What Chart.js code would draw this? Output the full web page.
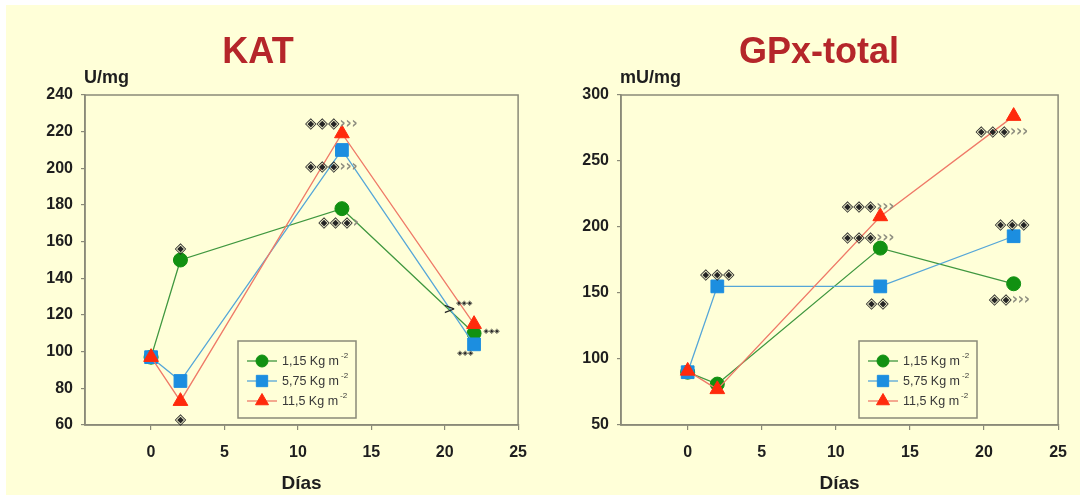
<!DOCTYPE html>
<html>
<head>
<meta charset="utf-8">
<script src="https://cdn.jsdelivr.net/npm/chart.js@4.4.1/dist/chart.umd.min.js"></script>
<style>
  html, body { margin: 0; padding: 0; background: #ffffff; }
  #page { position: absolute; left: 0; top: 0; width: 1080px; height: 495px; background: #ffffff; overflow: hidden; }
  #panel { position: absolute; left: 6px; top: 5px; width: 1074px; height: 490px; background: #ffffd8; }
  .box { position: absolute; top: 0; width: 540px; height: 495px; }
</style>
</head>
<body>
<div id="page">
  <div id="panel"></div>
  <div class="box" style="left:0"><canvas id="kat"></canvas></div>
  <div class="box" style="left:540px"><canvas id="gpx"></canvas></div>
</div>
<script>
// Sampling days and the three doses
const days = [0, 2, 13, 22];
const doseLabels = ['1,15 Kg m', '5,75 Kg m', '11,5 Kg m'];
const doseExponent = '-2';
const dayTicks = [0, 5, 10, 15, 20, 25];

// KAT activity (U/mg)
const katLow  = [97, 150, 178, 110];
const katMid  = [97, 84, 210, 104];
const katHigh = [97, 73, 219, 115];
const katTicks = [60, 80, 100, 120, 140, 160, 180, 200, 220, 240];

// GPx-total activity (mU/mg)
const gpxLow  = [90, 81, 184, 157];
const gpxMid  = [90, 155, 155, 193];
const gpxHigh = [91, 77, 208, 284];
const gpxTicks = [50, 100, 150, 200, 250, 300];

// Significance marks: ◈ = difference vs. control, › = difference vs. day 0
const katSigX    = [2, 2, 12.27, 12.27, 12.77, 20.33];
const katSigY    = [156, 62.7, 224, 200.7, 170, 122.7];
const katSigText = ['◈', '◈', '◈◈◈›››', '◈◈◈›››', '◈◈◈›', '>'];
const katMinorX  = [21.33, 23.2, 21.4];
const katMinorY  = [126.5, 111, 99];

const gpxSigX    = [2.0, 12.17, 12.17, 12.8, 21.2, 21.9, 21.7];
const gpxSigY    = [163.6, 215.4, 191.4, 141.7, 272, 201.5, 144.7];
const gpxSigText = ['◈◈◈', '◈◈◈›››', '◈◈◈›››', '◈◈', '◈◈◈›››', '◈◈◈', '◈◈›››'];

const FONT = '"Liberation Sans", Arial, Helvetica, sans-serif';
const SYM_FONT = '"DejaVu Sans", sans-serif';

const styles = [
  { line: '#3f973f', fill: '#119111', pointStyle: 'circle',   radius: 7,   legendRadius: 6,   order: 2 },
  { line: '#55a6d8', fill: '#1c8ee0', pointStyle: 'rect',     radius: 9,   legendRadius: 8,   order: 1 },
  { line: '#ef7a68', fill: '#ff2a0c', pointStyle: 'triangle', radius: 8.5, legendRadius: 7.5, order: 0 }
];

function makeDatasets(series) {
  return series.map((vals, i) => ({
    label: doseLabels[i],
    data: days.map((d, k) => ({ x: d, y: vals[k] })),
    order: styles[i].order,
    borderColor: styles[i].line,
    borderWidth: 1.3,
    backgroundColor: styles[i].fill,
    pointBackgroundColor: styles[i].fill,
    pointBorderColor: styles[i].fill,
    pointBorderWidth: 1,
    pointStyle: styles[i].pointStyle,
    pointRadius: styles[i].radius,
    pointHoverRadius: styles[i].radius,
    tension: 0,
    fill: false
  }));
}

function drawMark(ctx, text, cx, cy, size) {
  ctx.font = size + 'px ' + SYM_FONT;
  const chars = Array.from(text);
  const widths = chars.map(c => ctx.measureText(c).width);
  const total = widths.reduce((a, b) => a + b, 0);
  let x = cx - total / 2;
  chars.forEach((c, i) => {
    if (c === '›') {
      ctx.fillStyle = '#8e8e80';
      ctx.font = 'bold ' + size + 'px ' + SYM_FONT;
    } else {
      ctx.fillStyle = '#262626';
      ctx.font = size + 'px ' + SYM_FONT;
    }
    ctx.fillText(c, x, cy);
    x += widths[i];
  });
}

const decor = {
  id: 'decor',
  beforeDatasetsDraw(chart) {
    const { ctx, chartArea: a } = chart;
    ctx.save();
    ctx.strokeStyle = '#8a8a78';
    ctx.lineWidth = 1.5;
    ctx.strokeRect(a.left, a.top, a.right - a.left, a.bottom - a.top);
    ctx.restore();
  },
  afterDraw(chart, args, opts) {
    const { ctx, scales: { x, y } } = chart;
    ctx.save();
    // heading
    ctx.textAlign = 'center';
    ctx.textBaseline = 'middle';
    ctx.fillStyle = '#b5262a';
    ctx.font = 'bold 36px ' + FONT;
    ctx.fillText(opts.title, opts.titleX, 53);
    // unit
    ctx.textAlign = 'left';
    ctx.fillStyle = '#1e1e1e';
    ctx.font = 'bold 18px ' + FONT;
    ctx.fillText(opts.unit, opts.unitX, 78);

    // significance marks
    ctx.textAlign = 'left';
    ctx.textBaseline = 'middle';
    opts.sigX.forEach((d, i) => {
      drawMark(ctx, opts.sigText[i], x.getPixelForValue(d), y.getPixelForValue(opts.sigY[i]), 15);
    });
    (opts.minorX || []).forEach((d, i) => {
      drawMark(ctx, '◈◈◈', x.getPixelForValue(d), y.getPixelForValue(opts.minorY[i]), 7);
    });

    // legend box
    const L = opts.legend;
    ctx.strokeStyle = '#8a8a78';
    ctx.lineWidth = 1.5;
    ctx.strokeRect(L.x, L.y, L.w, L.h);
    chart.data.datasets.forEach((ds, i) => {
      const ry = L.y + 20 + i * 20;
      ctx.strokeStyle = ds.borderColor;
      ctx.lineWidth = 1.3;
      ctx.beginPath();
      ctx.moveTo(L.x + 9, ry);
      ctx.lineTo(L.x + 39, ry);
      ctx.stroke();
      ctx.fillStyle = ds.pointBackgroundColor;
      ctx.strokeStyle = ds.pointBorderColor;
      ctx.lineWidth = 1;
      Chart.helpers.drawPoint(ctx, { pointStyle: ds.pointStyle, rotation: 0, borderWidth: 1, radius: styles[i].legendRadius }, L.x + 24, ry);
      ctx.fillStyle = '#383838';
      ctx.font = '12.5px ' + FONT;
      ctx.textAlign = 'left';
      ctx.textBaseline = 'middle';
      ctx.fillText(ds.label, L.x + 44, ry + 1);
      const w = ctx.measureText(ds.label).width;
      ctx.font = '8px ' + FONT;
      ctx.fillText(doseExponent, L.x + 46 + w, ry - 5);
    });
    ctx.restore();
  }
};

function makeChart(id, series, yTicks, yWidth, padRight, deco) {
  return new Chart(document.getElementById(id), {
    type: 'line',
    data: { datasets: makeDatasets(series) },
    plugins: [decor],
    options: {
      responsive: true,
      maintainAspectRatio: false,
      animation: false,
      events: [],
      layout: { padding: { top: 95, right: padRight, left: 0, bottom: 0 } },
      plugins: {
        legend: { display: false },
        tooltip: { enabled: false },
        title: { display: false },
        decor: deco
      },
      scales: {
        x: {
          type: 'linear',
          min: -4.5,
          max: 25,
          afterBuildTicks: s => { s.ticks = dayTicks.map(v => ({ value: v })); },
          afterFit: s => { s.height = 70; },
          grid: { display: true, drawOnChartArea: false, drawTicks: true, tickLength: 5, color: '#8a8a78', lineWidth: 1.2 },
          border: { display: true, color: '#8a8a78', width: 1.5 },
          ticks: { color: '#1e1e1e', padding: 13, font: { family: FONT, size: 16, weight: 'bold' }, maxRotation: 0 },
          title: { display: true, text: 'Días', color: '#1e1e1e', font: { family: FONT, size: 19, weight: 'bold' }, padding: { top: 4, bottom: 0 } }
        },
        y: {
          type: 'linear',
          min: yTicks[0],
          max: yTicks[yTicks.length - 1],
          afterBuildTicks: s => { s.ticks = yTicks.map(v => ({ value: v })); },
          afterFit: s => { s.width = yWidth; },
          grid: { display: true, drawOnChartArea: false, drawTicks: true, tickLength: 4, color: '#8a8a78', lineWidth: 1.2 },
          border: { display: true, color: '#8a8a78', width: 1.5 },
          ticks: { color: '#1e1e1e', padding: 8, font: { family: FONT, size: 16, weight: 'bold' } }
        }
      }
    }
  });
}

makeChart('kat', [katLow, katMid, katHigh], katTicks, 85, 13, {
  title: 'KAT', titleX: 258, unit: 'U/mg', unitX: 84,
  sigX: katSigX, sigY: katSigY, sigText: katSigText,
  minorX: katMinorX, minorY: katMinorY,
  legend: { x: 238, y: 341, w: 118, h: 77 }
});

makeChart('gpx', [gpxLow, gpxMid, gpxHigh], gpxTicks, 81, 15, {
  title: 'GPx-total', titleX: 279, unit: 'mU/mg', unitX: 80,
  sigX: gpxSigX, sigY: gpxSigY, sigText: gpxSigText,
  legend: { x: 319, y: 341, w: 118, h: 77 }
});
</script>
</body>
</html>
